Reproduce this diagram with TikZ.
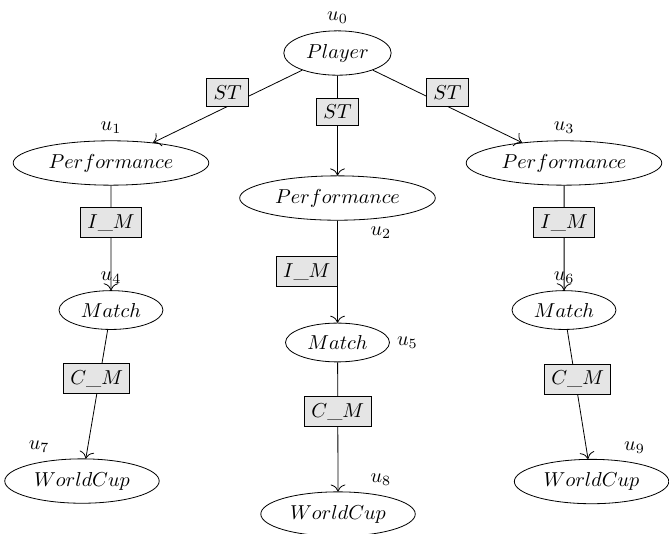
\documentclass[tikz,border=0pt]{standalone}
\usetikzlibrary{shapes.geometric, arrows.meta}

\tikzset{
  ent/.style={ellipse, draw},
  rel/.style={rectangle, draw, fill=gray!20},
}

\begin{document}
\begin{tikzpicture}[draw=black, scale=1.051, >={To[scale=1.4]}]
\useasboundingbox (0,0) rectangle (11.091,-8.837);

\node[ent, label=above:$u_0$] (u0) at (5.595,-0.879) {$Player$};

\node[ent, label=above:$u_1$] (u1) at (1.840,-2.702) {$Performance$};
\node[ent, label=-40:$u_2$] (u2) at (5.595,-3.283) {$Performance$};
\node[ent, label=above:$u_3$] (u3) at (9.350,-2.702) {$Performance$};

\node[ent, label=above:$u_4$] (u4) at (1.840,-5.140) {$Match$};
\node[ent, label=right:$u_5$] (u5) at (5.595,-5.678) {$Match$};
\node[ent, label=above:$u_6$] (u6) at (9.350,-5.140) {$Match$};

\node[ent, label=140:$u_7$] (u7) at (1.359,-7.975) {$WorldCup$};
\node[ent, label=40:$u_8$] (u8) at (5.604,-8.522) {$WorldCup$};
\node[ent, label=40:$u_9$] (u9) at (9.807,-7.983) {$WorldCup$};

% relations
\draw[->] (u0) -- node[rel, above] {$ST$} (u1);
\draw[->] (u0) -- node[rel, above] {$ST$} (u2);
\draw[->] (u0) -- node[rel, above] {$ST$} (u3);

\draw[->] (u1) -- node[rel, above] {$I\_M$} (u4);
\draw[->] (u2) -- node[rel, left] {$I\_M$} (u5);
\draw[->] (u3) -- node[rel, above] {$I\_M$} (u6);

\draw[->] (u4) -- node[rel, above] {$C\_M$} (u7);
\draw[->] (u5) -- node[rel, above] {$C\_M$} (u8);
\draw[->] (u6) -- node[rel, above] {$C\_M$} (u9);
\end{tikzpicture}
\end{document}
